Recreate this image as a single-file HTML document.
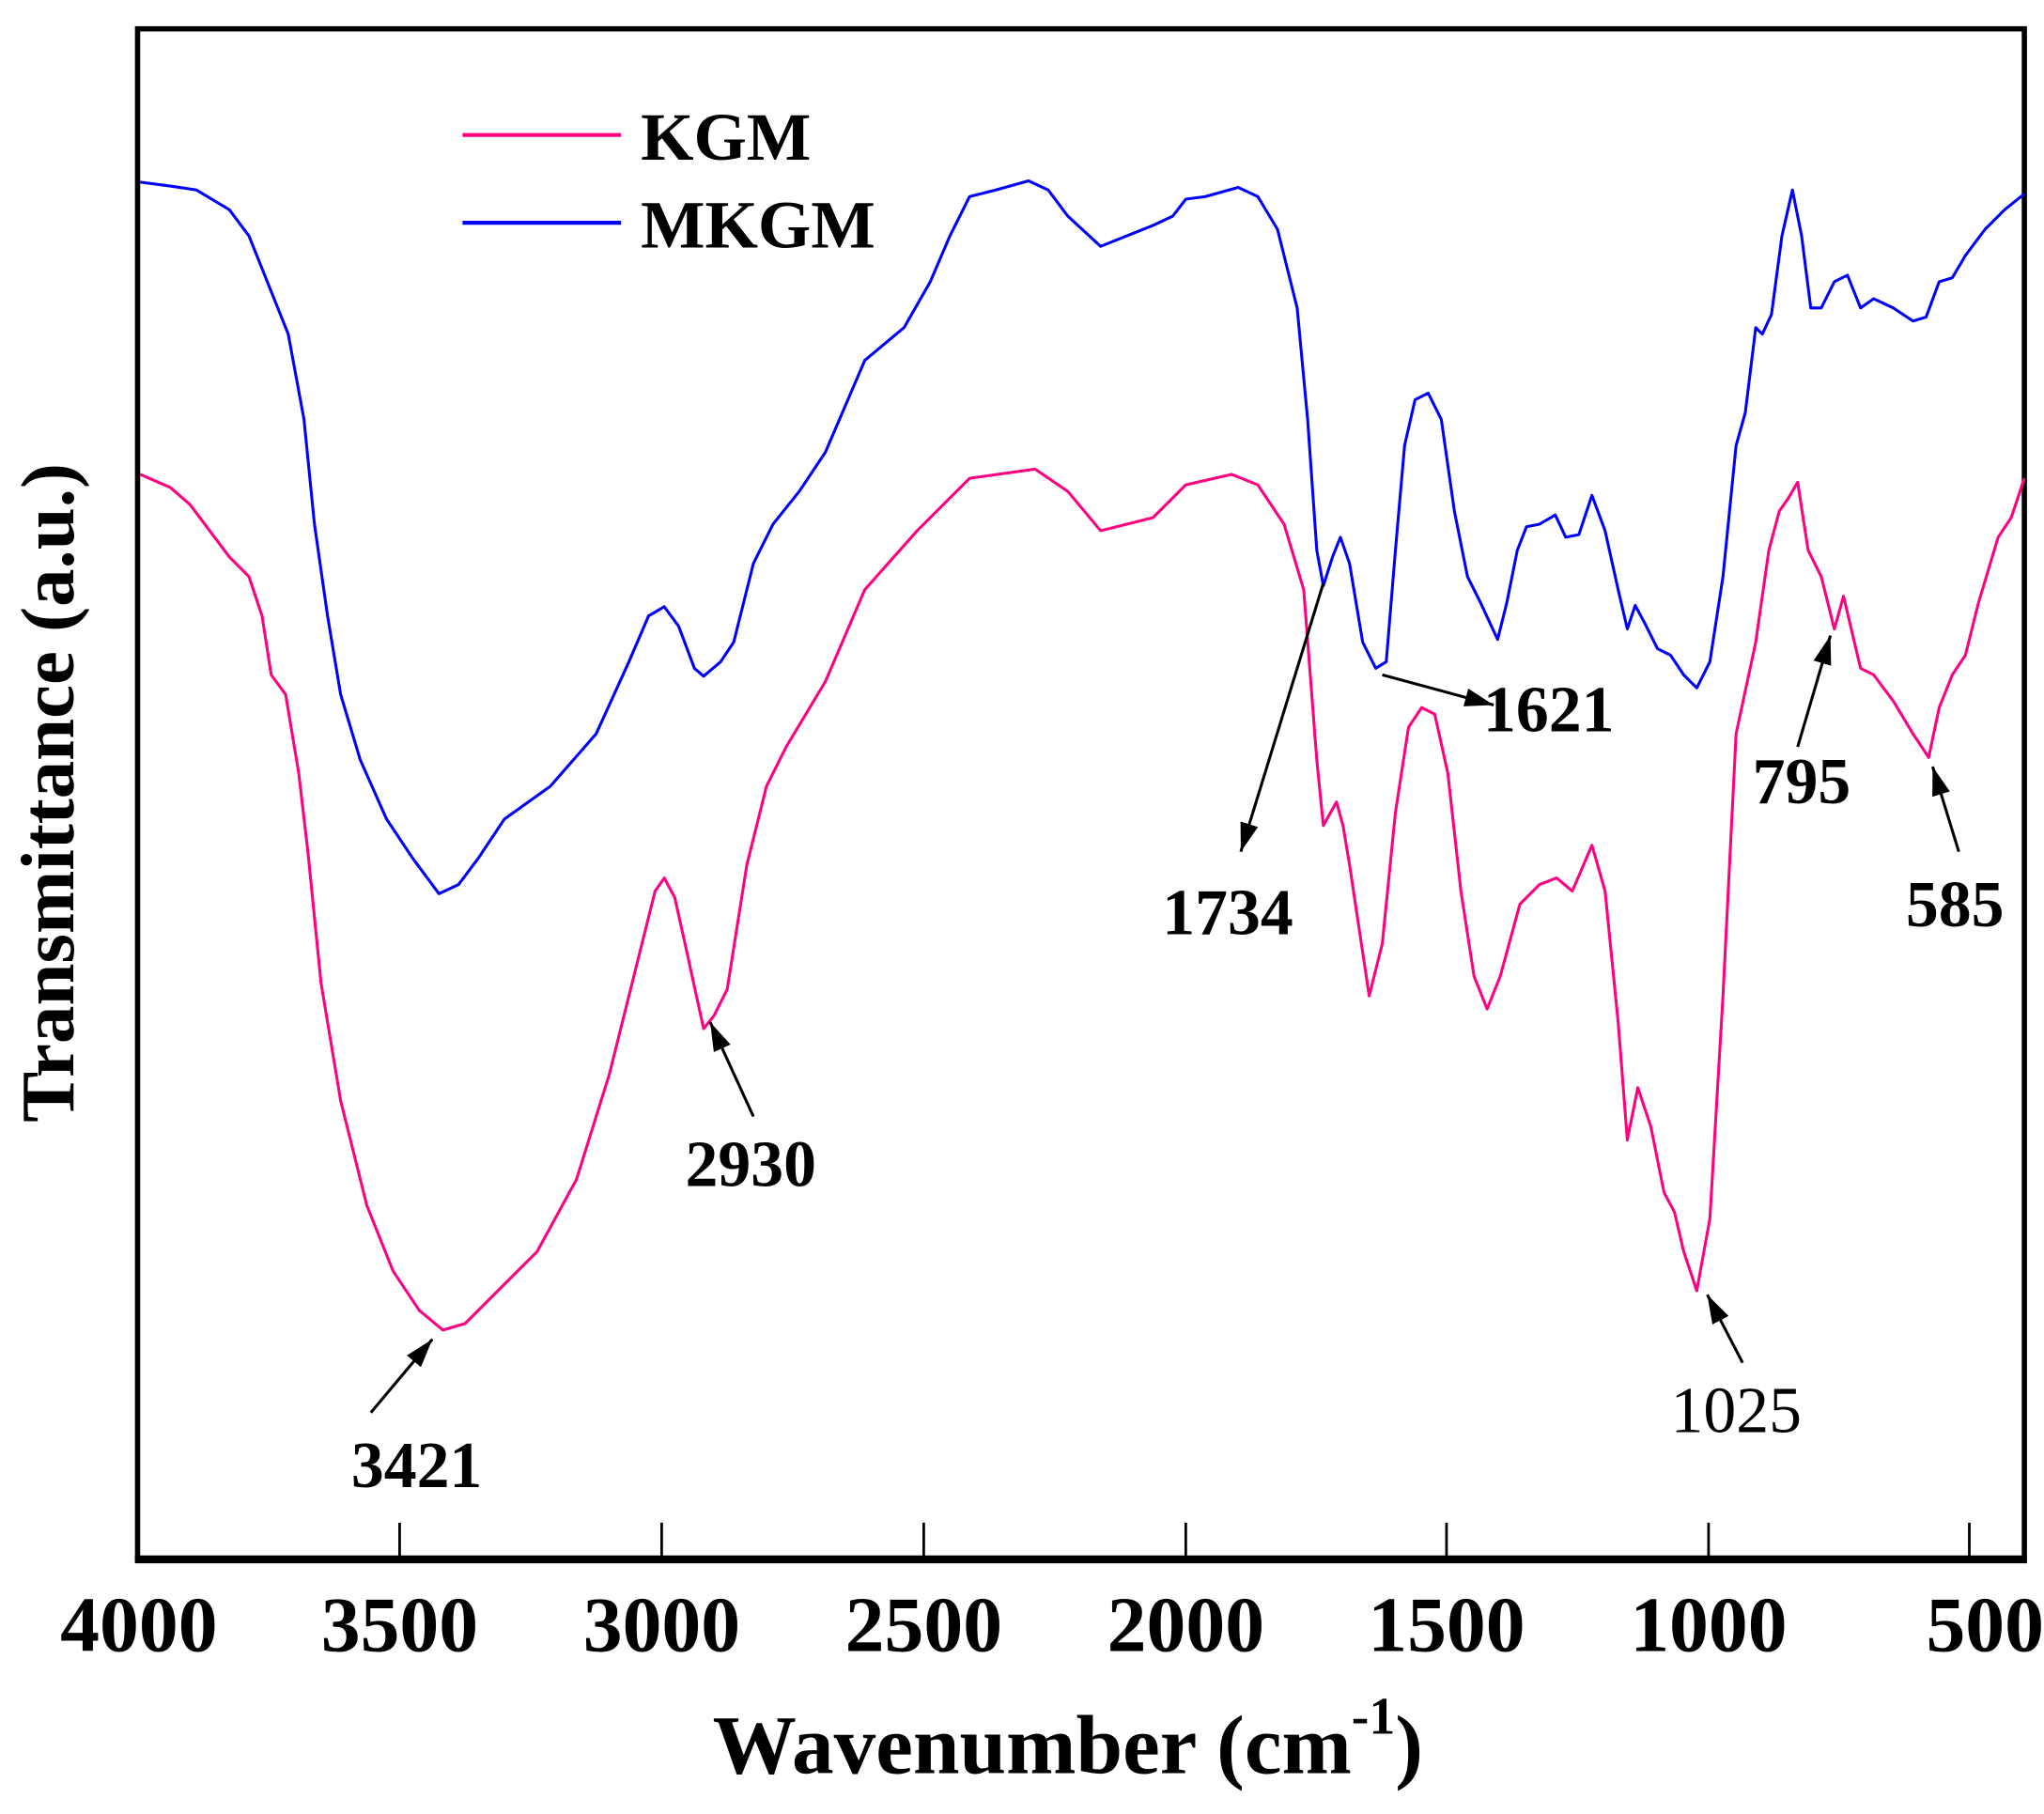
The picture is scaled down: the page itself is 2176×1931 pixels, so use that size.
<!DOCTYPE html>
<html><head><meta charset="utf-8"><style>
html,body{margin:0;padding:0;background:#fff;}
svg{display:block;}
text{font-family:"Liberation Serif",serif;fill:#000;}
</style></head><body>
<svg width="2176" height="1931" viewBox="0 0 1560 1384.3" preserveAspectRatio="none" xmlns="http://www.w3.org/2000/svg">
<defs><marker id="ah" markerWidth="24" markerHeight="16" refX="22" refY="8" orient="auto" markerUnits="userSpaceOnUse"><path d="M0,1 L22,8 L0,15 z" fill="#000"/></marker></defs>
<rect x="105" y="22" width="1440" height="1168" fill="none" stroke="#000" stroke-width="4"/>
<line x1="103" y1="1190" x2="1547" y2="1190" stroke="#000" stroke-width="6"/>
<g stroke="#000" stroke-width="2">
<line x1="305" y1="1190" x2="305" y2="1162"/><line x1="505" y1="1190" x2="505" y2="1162"/><line x1="705" y1="1190" x2="705" y2="1162"/><line x1="905" y1="1190" x2="905" y2="1162"/><line x1="1104" y1="1190" x2="1104" y2="1162"/><line x1="1304" y1="1190" x2="1304" y2="1162"/><line x1="1503" y1="1190" x2="1503" y2="1162"/>
</g>
<g font-size="60" text-anchor="middle" font-weight="bold">
<text x="106" y="1260">4000</text><text x="305" y="1260">3500</text><text x="505" y="1260">3000</text><text x="705" y="1260">2500</text><text x="905" y="1260">2000</text><text x="1104" y="1260">1500</text><text x="1304" y="1260">1000</text><text x="1515" y="1260">500</text>
</g>
<text x="815" y="1353" font-size="64" text-anchor="middle" font-weight="bold">Wavenumber (cm<tspan font-size="40" dy="-30">-1</tspan><tspan dy="30">)</tspan></text>
<text transform="translate(56,605) rotate(-90)" font-size="58" text-anchor="middle" font-weight="bold">Transmittance (a.u.)</text>
<line x1="353" y1="103" x2="474" y2="103" stroke="#ff0080" stroke-width="3"/>
<line x1="353" y1="170" x2="474" y2="170" stroke="#0000ff" stroke-width="3"/>
<text x="489" y="122" font-size="52" font-weight="bold">KGM</text>
<text x="489" y="189" font-size="52" font-weight="bold">MKGM</text>
<polyline fill="none" stroke="#ff0080" stroke-width="2.2" stroke-linejoin="round" points="107,362 130,372 145,385 160,405 175,425 190,440 200,470 207,515 218,530 228,590 235,650 245,750 260,840 280,920 300,970 320,1000 338,1015 355,1010 380,985 410,955 440,900 465,820 485,740 500,680 507,670 515,685 525,730 537,785 545,775 555,755 570,660 585,600 600,570 630,520 660,450 700,405 740,365 790,358 815,375 840,405 860,400 880,395 905,370 940,362 960,370 980,400 995,450 1005,580 1010,630 1020,612 1025,630 1030,660 1045,760 1055,720 1065,620 1075,555 1085,540 1095,545 1105,590 1115,680 1125,745 1135,770 1145,745 1160,690 1175,675 1188,670 1200,680 1215,645 1225,680 1235,780 1242,870 1250,830 1260,860 1270,910 1278,925 1285,955 1295,985 1305,930 1315,760 1325,560 1340,490 1350,420 1358,390 1365,380 1372,368 1380,420 1390,440 1400,480 1407,455 1420,510 1430,515 1445,535 1460,560 1472,578 1480,540 1490,515 1500,500 1510,460 1525,410 1535,395 1545,365"/>
<polyline fill="none" stroke="#0000ff" stroke-width="2.2" stroke-linejoin="round" points="107,139 130,142 150,145 175,160 190,180 210,230 220,255 232,320 240,400 250,470 260,530 275,580 295,625 315,655 335,682 350,675 365,655 385,625 420,600 455,560 480,505 495,470 507,463 518,478 530,510 537,516 550,505 560,490 575,430 590,400 610,375 630,345 660,275 690,250 710,215 725,180 740,150 760,145 785,138 800,145 815,165 840,188 860,180 880,172 895,165 905,152 920,150 945,143 960,150 975,175 990,235 998,320 1005,420 1010,447 1017,425 1023,410 1030,430 1040,490 1050,510 1058,505 1065,420 1072,340 1080,305 1090,300 1100,320 1110,390 1120,440 1130,460 1143,488 1150,460 1158,420 1165,402 1175,400 1187,393 1195,410 1205,408 1215,378 1225,405 1235,450 1242,480 1248,462 1255,475 1265,495 1275,500 1285,515 1295,525 1305,505 1315,440 1325,340 1332,315 1340,250 1345,255 1352,240 1360,180 1368,145 1375,180 1382,235 1390,235 1400,215 1410,210 1420,235 1430,228 1445,235 1460,245 1470,242 1480,215 1490,212 1500,195 1515,175 1530,160 1545,148"/>
<g stroke="#000" stroke-width="2.2" marker-end="url(#ah)">
<line x1="283" y1="1078" x2="330" y2="1022"/>
<line x1="575" y1="852" x2="542" y2="780"/>
<line x1="1010" y1="445" x2="947" y2="650"/>
<line x1="1055" y1="515" x2="1140" y2="538"/>
<line x1="1372" y1="570" x2="1397" y2="485"/>
<line x1="1495" y1="650" x2="1475" y2="585"/>
<line x1="1330" y1="1040" x2="1303" y2="988"/>
</g>
<g font-size="50" text-anchor="middle" font-weight="bold">
<text x="318" y="1135">3421</text>
<text x="573" y="905">2930</text>
<text x="937" y="713">1734</text>
<text x="1182" y="558">1621</text>
<text x="1375" y="613">795</text>
<text x="1492" y="707">585</text>
</g>
<text x="1325" y="1093" font-size="50" text-anchor="middle" font-weight="normal">1025</text>
</svg>
</body></html>
